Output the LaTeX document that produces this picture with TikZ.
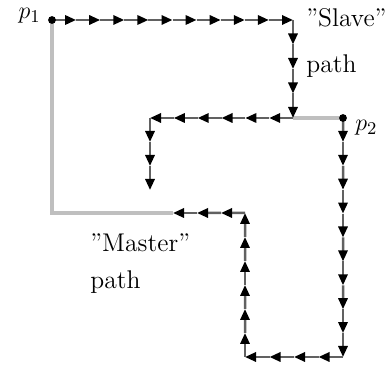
\documentclass[tikz,border=0pt]{standalone}
\usetikzlibrary{arrows.meta,calc}
\begin{document}
\begin{tikzpicture}[x=0.5pt,y=-0.5pt,
  flow/.style={draw=black!62, line width=1.25pt, -{Triangle[length=5.5pt,width=4.6pt,color=black]}},
  master/.style={draw=black!25, line width=1.6pt},
  lbl/.style={font=\fontsize{12.8}{15}\selectfont, inner sep=0pt},
  dot/.style={circle, fill=black, inner sep=0pt, minimum size=3.9pt}]
\useasboundingbox (0,0) rectangle (392,368);
\coordinate (P1) at (52,20);
\coordinate (A) at (293,20);
\coordinate (B) at (293,118);
\coordinate (C) at (150,118);
\coordinate (Cend) at (150,190);
\coordinate (P2) at (343,118);
\coordinate (D) at (343,357);
\coordinate (E) at (245,357);
\coordinate (F) at (245,213);
\coordinate (Fend) at (173,213);
\coordinate (G) at (52,213);
% master path (gray)
\draw[master] (P1) -- (G) -- (Fend);
\draw[master] (B) -- (P2);
% sampled paths with arrows
\foreach \s/\e/\n in {P1/A/10, A/B/4, B/C/6, C/Cend/3, P2/D/10, D/E/4, E/F/6, F/Fend/3}{
  \foreach \i in {1,...,\n}{
    \draw[flow] ($(\s)!{(\i-1)/\n}!(\e)$) -- ($(\s)!{\i/\n}!(\e)$);
  }
}
\node[dot] (d1) at (P1) {};
\node[dot] (d2) at (P2) {};
% labels
\node[lbl, anchor=base east] (l1) at (41,19) {$p_1$};
\node[lbl, anchor=base west] (l2) at (355,131) {$p_2$};
\node[lbl, anchor=base west] (s1) at (306,27) {”Slave”};
\node[lbl, anchor=base west] (s2) at (306,73) {path};
\node[lbl, anchor=base west] (m1) at (90,252) {”Master”};
\node[lbl, anchor=base west] (m2) at (90,289) {path};
\end{tikzpicture}
\end{document}
